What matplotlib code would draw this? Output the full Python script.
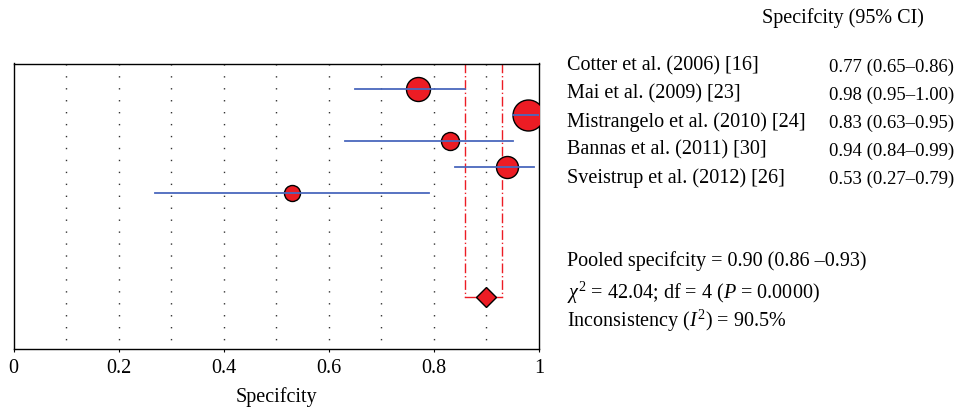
import matplotlib
matplotlib.use('Agg')
import matplotlib.pyplot as plt

# study data
studies = ['Cotter et al. (2006) [16]', 'Mai et al. (2009) [23]',
           'Mistrangelo et al. (2010) [24]', 'Bannas et al. (2011) [30]',
           'Sveistrup et al. (2012) [26]']
spec = [0.77, 0.98, 0.83, 0.94, 0.53]
ci_lo = [0.65, 0.95, 0.63, 0.84, 0.27]
ci_hi = [0.86, 1.00, 0.95, 0.99, 0.79]
weights = [24, 31, 18, 22, 16]  # marker diameter (px), study weight

pooled = 0.90
pooled_lo = 0.86
pooled_hi = 0.93
chi2 = 42.04
df = 4
p_value = '0.0000'
i2 = 90.5

xticks = [0, 0.2, 0.4, 0.6, 0.8, 1]
grid_x = [0.1, 0.2, 0.3, 0.4, 0.5, 0.6, 0.7, 0.8, 0.9]

plt.rcParams['font.family'] = ['Liberation Serif', 'DejaVu Serif']
plt.rcParams['mathtext.fontset'] = 'custom'
plt.rcParams['mathtext.rm'] = 'Liberation Serif'
plt.rcParams['mathtext.it'] = 'Liberation Serif:italic'
fs = 14.5
fs_val = 13.5

W, H = 969, 412
fig = plt.figure(figsize=(W / 100, H / 100), dpi=100)
ax = fig.add_axes([13.5 / W, 1 - 349 / H, (539 - 13.5) / W, (349 - 63.5) / H])

red = '#ec1c24'
blue = '#4a68bd'
px = 0.72  # points per pixel

for gx in grid_x:
    ax.axvline(gx, color='#333333', lw=1.0, ls=(2, (1, 7.6)), zorder=1)

ypos = list(range(len(studies)))
pool_y = 8

# pooled CI box
ax.plot([pooled_lo, pooled_lo], [-1, pool_y], color=red, lw=1.0,
        ls=(0, (7, 2, 1, 2)), zorder=2)
ax.plot([pooled_hi, pooled_hi], [-1, pool_y], color=red, lw=1.0,
        ls=(0, (7, 2, 1, 2)), zorder=2)
ax.plot([pooled_lo, pooled_hi], [pool_y, pool_y], color=red, lw=1.0, zorder=2)

for y, s, lo, hi, w in zip(ypos, spec, ci_lo, ci_hi, weights):
    ax.plot(s, y, 'o', ms=w * px, mfc=red, mec='black', mew=1.0, zorder=3)
    ax.plot([lo, hi], [y, y], color=blue, lw=1.3, zorder=4)

ax.plot(pooled, pool_y, 'D', ms=14 * px, mfc=red, mec='black', mew=1.0, zorder=5)

ax.set_xlim(0, 1)
ax.set_ylim(10, -1)
ax.set_yticks([])
ax.set_xticks(xticks)
ax.set_xticklabels([f'{t:g}' for t in xticks], fontsize=fs)
ax.tick_params(axis='x', direction='out', length=2.5, width=0.8, pad=5)
for sp in ax.spines.values():
    sp.set_linewidth(1.0)
ax.set_xlabel('Specifcity', fontsize=fs, labelpad=6)

# text columns
def fy(py):
    return 1 - py / H

fig.text(762 / W, fy(18), 'Specifcity (95% CI)', fontsize=fs, va='center')
for i, (name, s, lo, hi) in enumerate(zip(studies, spec, ci_lo, ci_hi)):
    fig.text(567 / W, fy(66 + 28 * i), name, fontsize=fs, va='center')
    fig.text(829 / W, fy(67 + 28 * i), f'{s:.2f} ({lo:.2f}\u2013{hi:.2f})',
             fontsize=fs_val, va='center')

fig.text(567 / W, fy(261), f'Pooled specifcity = {pooled:.2f} ({pooled_lo:.2f} \u2013{pooled_hi:.2f})',
         fontsize=fs, va='center')
fig.text(567 / W, fy(293), rf'$\chi^2$ = {chi2:.2f}; df = {df} ($P$ = {p_value})',
         fontsize=fs, va='center')
fig.text(567 / W, fy(321), rf'Inconsistency ($I^2$) = {i2:.1f}%', fontsize=fs, va='center')

fig.savefig('out.png', dpi=100)
